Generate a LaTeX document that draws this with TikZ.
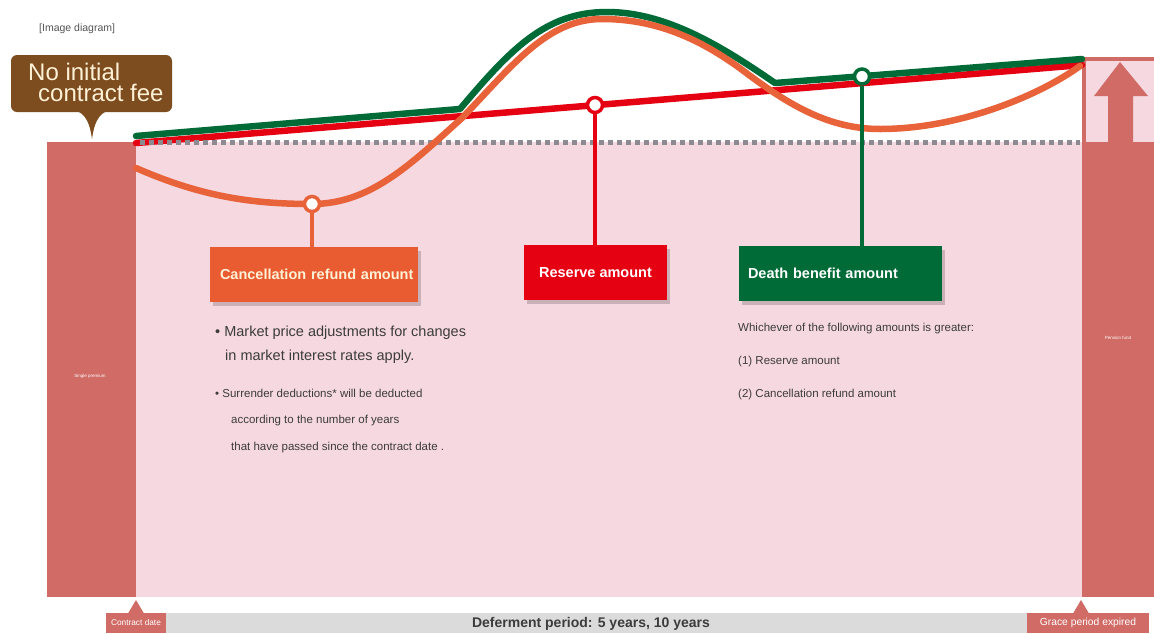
\documentclass[tikz,border=0pt]{standalone}
\usepackage{fontspec}
\setmainfont{Liberation Sans}
\usetikzlibrary{shadows}
\definecolor{pinkbg}{HTML}{F6D8E0}
\definecolor{salmon}{HTML}{D06B66}
\definecolor{brownC}{HTML}{7D4C1F}
\definecolor{creamC}{HTML}{FFF1D6}
\definecolor{orangeC}{HTML}{E8623A}
\definecolor{orangeBox}{HTML}{E95B30}
\definecolor{redC}{HTML}{E50012}
\definecolor{greenC}{HTML}{006B36}
\definecolor{dotgray}{HTML}{8E8A92}
\definecolor{bandgray}{HTML}{DCDBDB}
\definecolor{bodygray}{HTML}{3C3C3C}
\definecolor{capgray}{HTML}{555555}
\begin{document}
\begin{tikzpicture}[x=1pt,y=-1pt,
  curve/.style={line width=6.5pt, line cap=round, line join=round},
  marker/.style={circle, draw, fill=white, line width=3.5pt, minimum size=15pt, inner sep=0pt},
  stem/.style={line width=4pt},
  titlebox/.style={minimum height=55pt, inner ysep=0pt, font=\bfseries\fontsize{14.5}{17}\selectfont,
    drop shadow={shadow xshift=3pt, shadow yshift=-4pt, opacity=0.18, fill=black}},
  body/.style={anchor=base west, inner sep=0pt, text=bodygray},
  bigbody/.style={body, font=\fontsize{14.5}{17}\selectfont},
  smallbody/.style={body, font=\fontsize{11.5}{14}\selectfont},
  feefont/.style={anchor=base west, inner sep=0pt, text=creamC, font=\fontsize{24}{24}\selectfont},
  tag/.style={fill=salmon, text=white, inner sep=0pt, minimum height=20pt},
  tiny/.style={text=white, inner sep=0pt, font=\fontsize{4.5}{5}\selectfont}
]
\useasboundingbox (0,0) rectangle (1154,633);
\fill[white] (0,0) rectangle (1154,633);

% caption
\node[anchor=base west, inner sep=0pt, text=capgray, font=\fontsize{10.5}{12}\selectfont] (caption) at (39,31) {[Image diagram]};

% callout
\node[fill=brownC, rounded corners=6pt, minimum width=161pt, minimum height=57pt, inner sep=0pt] (fee) at (91.5,83.5) {};
\coordinate (feetip) at (92,139);
\fill[brownC] (74,110) .. controls (86,113) and (90,124) .. (feetip) .. controls (94,124) and (98,113) .. (110,110) -- cycle;
\node[feefont] (feeA) at (28,80) {No initial};
\node[feefont] (feeB) at (38,101.5) {contract fee};

% main pink area and side bars
\fill[pinkbg] (136,142) rectangle (1082,597);
\fill[salmon] (47,142) rectangle (136,597);
\node[tiny] (single) at (90,376) {Single premium};
\fill[pinkbg] (1084,58) rectangle (1154,142);
\draw[salmon, line width=3.5pt] (1155,58.75) -- (1083.75,58.75) -- (1083.75,142);
\fill[salmon] (1082,142) rectangle (1154,597);
\fill[salmon] (1120,62) -- (1148,96) -- (1133,96) -- (1133,143) -- (1108,143) -- (1108,96) -- (1094,96) -- cycle;
\node[tiny] (pension) at (1118,338) {Pension fund};

% lines
\draw[curve, redC] (136,143) -- (1082,65);
\draw[curve, greenC] (136,136) -- (460,109) .. controls (510,50) and (545,12) .. (607,12)
   .. controls (665,12) and (720,45) .. (775,83) -- (1082,59);
\draw[dotgray, line width=5pt, dash pattern=on 5pt off 4pt] (140,142) -- (1080,142);
\draw[curve, orangeC] (136,168) .. controls (200,196) and (250,204) .. (312,204)
   .. controls (370,204) and (410,165) .. (462,118)
   .. controls (512,66) and (547,19) .. (602,19)
   .. controls (660,19) and (705,42) .. (745,72)
   .. controls (790,106) and (830,129) .. (880,129)
   .. controls (960,129) and (1040,95) .. (1080,66);

% markers
\node[marker, draw=orangeC] (oc) at (312,204) {};
\node[marker, draw=redC] (rc) at (595,105) {};
\node[marker, draw=greenC] (gc) at (862,76.5) {};

% boxes
\node[titlebox, fill=orangeBox, text=creamC, minimum width=208pt, text width=188pt, inner xsep=10pt, align=left] (obox) at (314,274.5) {\makebox[188pt][l]{Cancellation refund amount}};
\node[titlebox, fill=redC, text=white, minimum width=143pt, inner xsep=0pt] (rbox) at (595.5,272.5) {Reserve amount};
\node[titlebox, fill=greenC, text=white, minimum width=203pt, text width=185pt, inner xsep=9pt, align=left] (gbox) at (840.5,273.5) {Death benefit amount};

% stems
\draw[stem, orangeC] (oc.south) -- (oc.south |- obox.north);
\draw[stem, redC] (rc.south) -- (rc.south |- rbox.north);
\draw[stem, greenC] (gc.south) -- (gc.south |- gbox.north);

% body text
\node[bigbody] (t1) at (215,336) {• Market price adjustments for changes};
\node[bigbody] (t2) at (225,360) {in market interest rates apply.};
\node[smallbody] (t3) at (215,397) {• Surrender deductions* will be deducted};
\node[smallbody] (t4) at (231,423) {according to the number of years};
\node[smallbody] (t5) at (231,450) {that have passed since the contract date .};
\node[smallbody] (d1) at (738,331) {Whichever of the following amounts is greater:};
\node[smallbody] (d2) at (738,364) {(1) Reserve amount};
\node[smallbody] (d3) at (738,397) {(2) Cancellation refund amount};

% bottom band
\fill[bandgray] (136,613) rectangle (1082,633);
\node[font=\bfseries\fontsize{14}{16}\selectfont, text=bodygray, inner sep=0pt] (period) at (591,624) {Deferment period: 5 years, 10 years};
\node[tag, minimum width=60pt, font=\fontsize{8.3}{10}\selectfont] (cdate) at (136,623) {Contract date};
\fill[salmon] (128,613.5) -- (136,600) -- (144,613.5) -- cycle;
\node[tag, minimum width=122pt, font=\fontsize{10.3}{12}\selectfont] (grace) at (1088,623) {Grace period expired};
\fill[salmon] (1073,613.5) -- (1081,600) -- (1089,613.5) -- cycle;
\end{tikzpicture}
\end{document}
